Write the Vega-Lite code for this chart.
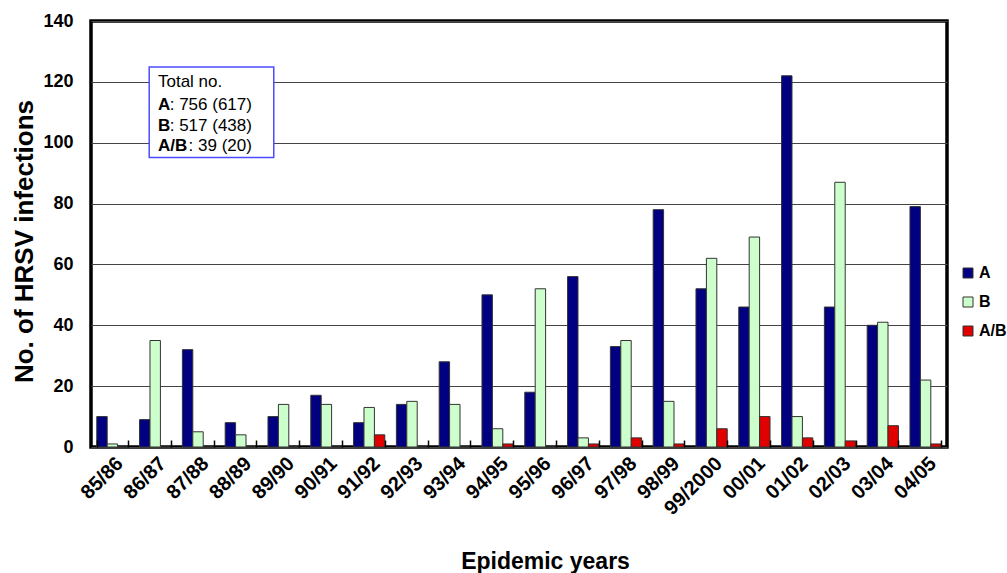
{
  "$schema": "https://vega.github.io/schema/vega-lite/v6.json",
  "width": 856,
  "height": 426,
  "autosize": {"type": "none"},
  "padding": {"left": 91, "top": 21, "right": 60, "bottom": 126},
  "background": "white",
  "config": {
    "font": "Liberation Sans",
    "view": {"stroke": "black", "strokeWidth": 3.5},
    "axis": {"labelColor": "black", "titleColor": "black"}
  },
  "layer": [
    {
      "data": {
        "values": [
          {"year": "85/86", "type": "A", "n": 10}, {"year": "85/86", "type": "B", "n": 1}, {"year": "85/86", "type": "A/B", "n": 0},
          {"year": "86/87", "type": "A", "n": 9}, {"year": "86/87", "type": "B", "n": 35}, {"year": "86/87", "type": "A/B", "n": 0},
          {"year": "87/88", "type": "A", "n": 32}, {"year": "87/88", "type": "B", "n": 5}, {"year": "87/88", "type": "A/B", "n": 0},
          {"year": "88/89", "type": "A", "n": 8}, {"year": "88/89", "type": "B", "n": 4}, {"year": "88/89", "type": "A/B", "n": 0},
          {"year": "89/90", "type": "A", "n": 10}, {"year": "89/90", "type": "B", "n": 14}, {"year": "89/90", "type": "A/B", "n": 0},
          {"year": "90/91", "type": "A", "n": 17}, {"year": "90/91", "type": "B", "n": 14}, {"year": "90/91", "type": "A/B", "n": 0},
          {"year": "91/92", "type": "A", "n": 8}, {"year": "91/92", "type": "B", "n": 13}, {"year": "91/92", "type": "A/B", "n": 4},
          {"year": "92/93", "type": "A", "n": 14}, {"year": "92/93", "type": "B", "n": 15}, {"year": "92/93", "type": "A/B", "n": 0},
          {"year": "93/94", "type": "A", "n": 28}, {"year": "93/94", "type": "B", "n": 14}, {"year": "93/94", "type": "A/B", "n": 0},
          {"year": "94/95", "type": "A", "n": 50}, {"year": "94/95", "type": "B", "n": 6}, {"year": "94/95", "type": "A/B", "n": 1},
          {"year": "95/96", "type": "A", "n": 18}, {"year": "95/96", "type": "B", "n": 52}, {"year": "95/96", "type": "A/B", "n": 0},
          {"year": "96/97", "type": "A", "n": 56}, {"year": "96/97", "type": "B", "n": 3}, {"year": "96/97", "type": "A/B", "n": 1},
          {"year": "97/98", "type": "A", "n": 33}, {"year": "97/98", "type": "B", "n": 35}, {"year": "97/98", "type": "A/B", "n": 3},
          {"year": "98/99", "type": "A", "n": 78}, {"year": "98/99", "type": "B", "n": 15}, {"year": "98/99", "type": "A/B", "n": 1},
          {"year": "99/2000", "type": "A", "n": 52}, {"year": "99/2000", "type": "B", "n": 62}, {"year": "99/2000", "type": "A/B", "n": 6},
          {"year": "00/01", "type": "A", "n": 46}, {"year": "00/01", "type": "B", "n": 69}, {"year": "00/01", "type": "A/B", "n": 10},
          {"year": "01/02", "type": "A", "n": 122}, {"year": "01/02", "type": "B", "n": 10}, {"year": "01/02", "type": "A/B", "n": 3},
          {"year": "02/03", "type": "A", "n": 46}, {"year": "02/03", "type": "B", "n": 87}, {"year": "02/03", "type": "A/B", "n": 2},
          {"year": "03/04", "type": "A", "n": 40}, {"year": "03/04", "type": "B", "n": 41}, {"year": "03/04", "type": "A/B", "n": 7},
          {"year": "04/05", "type": "A", "n": 79}, {"year": "04/05", "type": "B", "n": 22}, {"year": "04/05", "type": "A/B", "n": 1}
        ]
      },
      "mark": {"type": "bar", "stroke": "#333333", "strokeWidth": 1},
      "encoding": {
        "x": {
          "field": "year", "type": "nominal", "sort": null,
          "scale": {"paddingInner": 0.27, "paddingOuter": 0.135},
          "axis": {
            "title": "Epidemic years",
            "titleFontSize": 23, "titleFontWeight": "bold",
            "titleX": 454, "titleY": 103, "titleBaseline": "top",
            "labelAngle": -45, "labelFontSize": 20, "labelFontWeight": "bold",
            "labelPadding": 13, "labelOverlap": false,
            "tickBand": "extent", "tickSize": -7, "tickColor": "black", "tickWidth": 1.5,
            "zindex": 1,
            "domain": false, "grid": false
          }
        },
        "xOffset": {"field": "type", "type": "nominal", "sort": ["A", "B", "A/B"], "scale": {"paddingInner": 0, "paddingOuter": 0}},
        "y": {
          "field": "n", "type": "quantitative",
          "scale": {"domain": [0, 140], "nice": false},
          "axis": {
            "title": "No. of HRSV infections",
            "titleFontSize": 26, "titleFontWeight": "bold", "titlePadding": 5,
            "titleY": 220, "titleAnchor": "middle",
            "values": [0, 20, 40, 60, 80, 100, 120, 140],
            "labelFontSize": 18, "labelFontWeight": "bold", "labelPadding": 18,
            "ticks": false, "domain": false,
            "grid": true, "gridColor": "#444444", "gridWidth": 1
          }
        },
        "color": {
          "field": "type", "type": "nominal",
          "scale": {"domain": ["A", "B", "A/B"], "range": ["#000080", "#CCFFCC", "#E00000"]},
          "legend": {
            "title": null, "orient": "none", "legendX": 869, "legendY": 244,
            "symbolType": "square", "symbolSize": 100, "symbolStrokeColor": "#333333", "symbolStrokeWidth": 1,
            "symbolOpacity": 1,
            "labelFontSize": 16, "labelFontWeight": "bold", "labelColor": "black", "labelOffset": 3,
            "rowPadding": 13, "padding": 0
          }
        }
      }
    },
    {
      "data": {"values": [{}]},
      "mark": {"type": "rect", "fill": "white", "stroke": "#4B4BFF", "strokeWidth": 1.5},
      "encoding": {
        "x": {"datum": 1.36, "type": "quantitative", "scale": {"domain": [0, 20]}, "axis": null},
        "x2": {"datum": 4.27},
        "y": {"datum": 124.9, "type": "quantitative"},
        "y2": {"datum": 95.1}
      }
    },
    {
      "data": {"values": [{}]},
      "mark": {"type": "text", "align": "left", "baseline": "top", "fontSize": 17, "color": "black", "text": "Total no."},
      "encoding": {
        "x": {"datum": 1.565, "type": "quantitative", "scale": {"domain": [0, 20]}, "axis": null},
        "y": {"datum": 122.6, "type": "quantitative"}
      }
    },
    {
      "data": {"values": [{}]},
      "mark": {"type": "text", "align": "left", "baseline": "top", "fontSize": 17, "fontWeight": "bold", "color": "black", "lineHeight": 20.5, "text": ["A", "B", "A/B"]},
      "encoding": {
        "x": {"datum": 1.565, "type": "quantitative", "scale": {"domain": [0, 20]}, "axis": null},
        "y": {"datum": 115.0, "type": "quantitative"}
      }
    },
    {
      "data": {"values": [{}]},
      "mark": {"type": "text", "align": "right", "baseline": "top", "fontSize": 17, "color": "black", "lineHeight": 20.5, "text": [": 756 (617)", ": 517 (438)", ": 39 (20)"]},
      "encoding": {
        "x": {"datum": 3.76, "type": "quantitative", "scale": {"domain": [0, 20]}, "axis": null},
        "y": {"datum": 115.0, "type": "quantitative"}
      }
    }
  ],
  "resolve": {"scale": {"x": "independent"}}
}
